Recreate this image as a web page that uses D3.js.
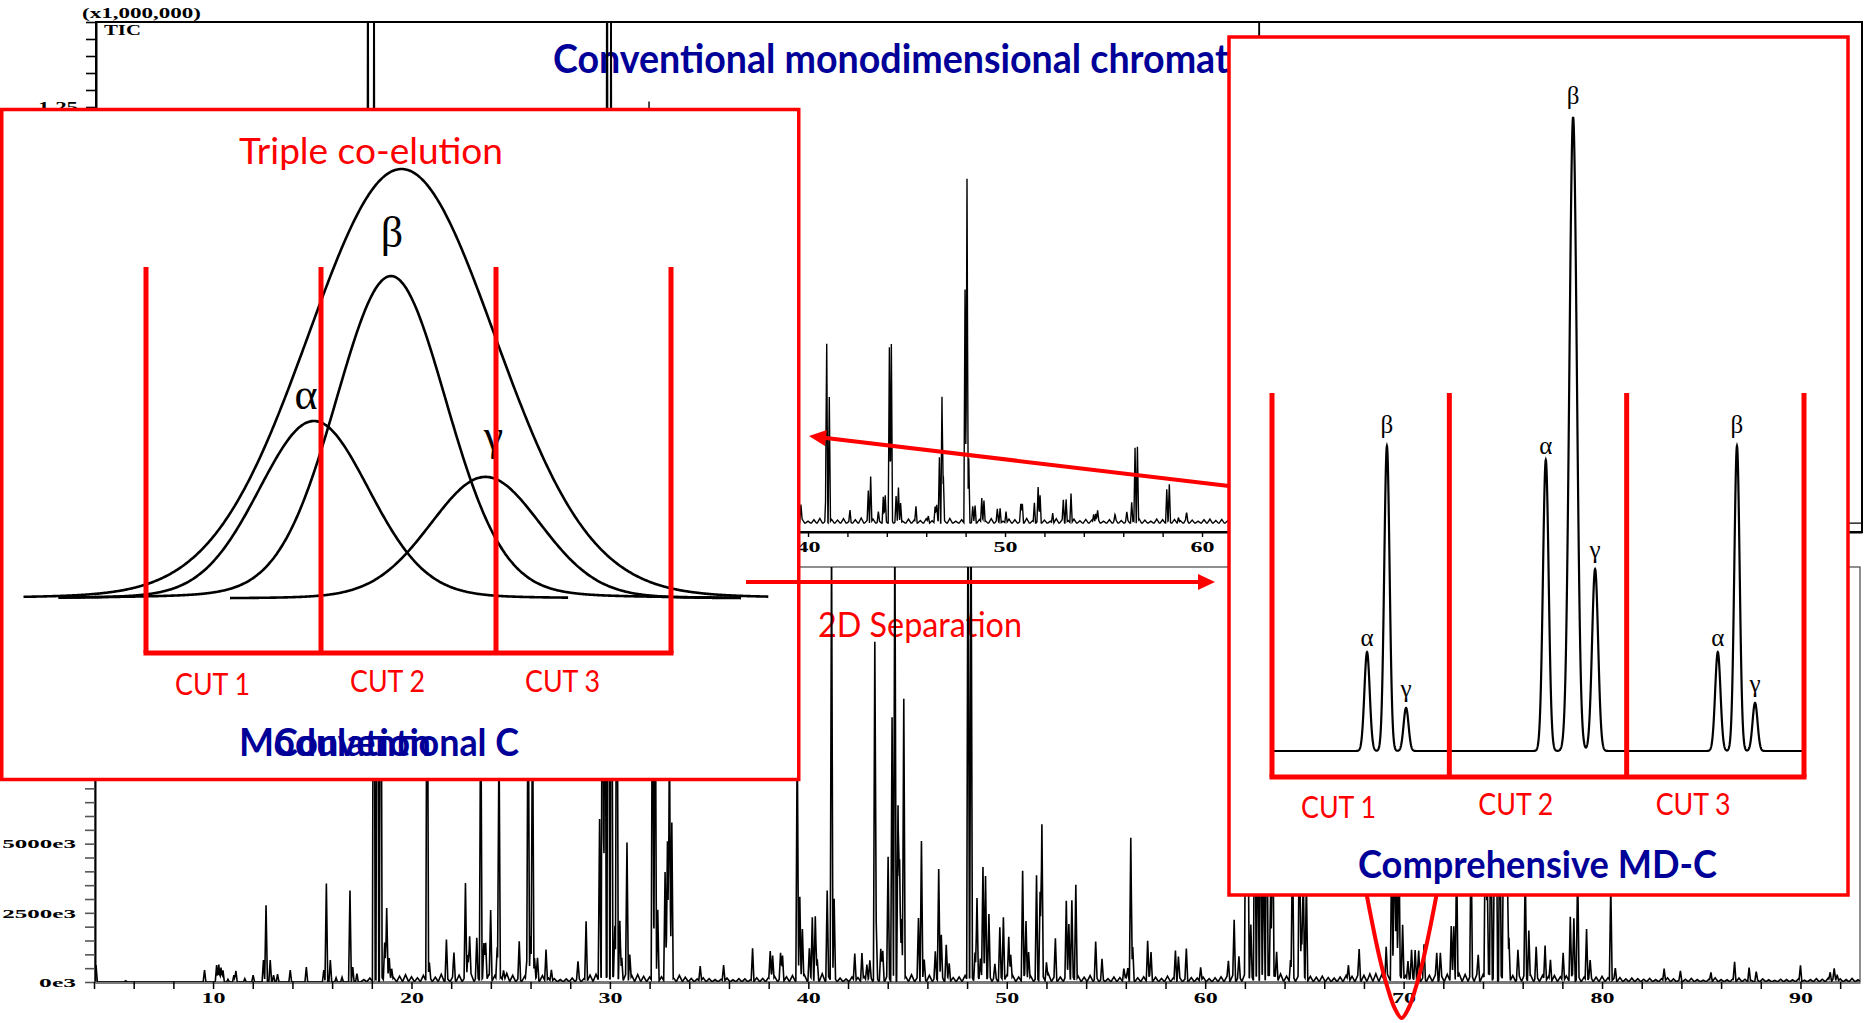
<!DOCTYPE html>
<html>
<head>
<meta charset="utf-8">
<script src="https://cdn.jsdelivr.net/npm/d3@7"></script>
<style>
  html, body { margin: 0; padding: 0; background: #fff; }
  svg { display: block; }
</style>
</head>
<body>
<svg id="fig" width="1866" height="1023"></svg>
<script>
// ================= DATA =================

// Upper trace: TIC, intensity in units of 1,000,000. [retention time (min), height above baseline]
const ticBaseline = 0.026;
const ticPeaks = [
  [12.6, 0.25], [15.7, 0.33], [16.9, 0.3], [17.66, 2.2], [17.97, 2.0], [20.8, 0.9], [22.7, 0.33],
  [23.5, 0.8], [24.4, 0.75], [25.9, 0.85], [26.1, 0.8], [28.8, 0.2], [29.5, 0.55], [29.8, 2.4],
  [30.0, 1.9], [31.93, 1.24], [32.2, 0.95], [32.9, 0.45], [33.1, 0.5], [37.2, 0.11],
  [39.64, 0.048], [40.91, 0.087], [40.95, 0.494], [41.08, 0.37], [42.13, 0.034], [43.06, 0.092],
  [43.18, 0.136], [43.57, 0.029], [43.82, 0.073], [43.92, 0.073], [44.13, 0.511], [44.23, 0.516],
  [44.47, 0.073], [44.59, 0.102], [44.7, 0.058], [45.48, 0.046], [46.11, 0.019], [46.45, 0.049],
  [46.53, 0.049], [46.67, 0.189], [46.8, 0.37], [46.87, 0.131], [47.97, 0.687], [48.07, 1.004],
  [48.16, 0.184], [48.36, 0.044], [48.48, 0.049], [48.82, 0.073], [48.93, 0.063], [49.61, 0.034],
  [49.75, 0.044], [50.05, 0.034], [50.8, 0.049], [50.88, 0.054], [51.49, 0.058], [51.68, 0.097],
  [51.78, 0.078], [52.42, 0.029], [52.96, 0.063], [53.1, 0.068], [53.35, 0.087], [54.5, 0.024],
  [54.6, 0.024], [54.7, 0.024], [55.58, 0.015], [56.18, 0.024], [56.43, 0.058], [56.6, 0.22],
  [56.72, 0.22], [58.21, 0.097], [58.34, 0.109], [58.8, 0.015], [59.22, 0.02],
  [62.5, 0.9], [62.9, 1.8], [63.1, 0.85], [63.4, 0.7], [64.4, 0.5], [64.75, 0.55], [69.5, 0.6],
  [69.7, 0.55], [72.7, 0.42], [73.4, 0.48], [74.4, 0.65], [74.85, 0.66], [75.0, 0.55], [76.1, 0.35],
  [78.8, 0.38], [80.4, 0.33], [86.7, 0.06], [90.0, 0.05]
];
// Baseline ripple of the TIC, sampled every 0.3 min from 39.4 min
const TIC_NOISE_START = 39.4, TIC_NOISE_STEP = 0.3;
const ticNoise = [
  0.008, 0.012, 0.006, 0.010, 0.014, 0.007, 0.011, 0.009, 0.013, 0.006,
  0.010, 0.015, 0.008, 0.012, 0.007, 0.011, 0.014, 0.009, 0.006, 0.012,
  0.010, 0.008, 0.013, 0.007, 0.011, 0.009, 0.014, 0.006, 0.010, 0.012,
  0.008, 0.011, 0.007, 0.013, 0.009, 0.006, 0.012, 0.010, 0.008, 0.014,
  0.007, 0.011, 0.009, 0.006, 0.013, 0.010, 0.008, 0.012, 0.007, 0.011,
  0.009, 0.014, 0.006, 0.010, 0.012, 0.008, 0.011, 0.007, 0.013, 0.009,
  0.006, 0.012, 0.010, 0.008, 0.011, 0.007, 0.013, 0.009, 0.006, 0.010,
  0.012, 0.008, 0.011, 0.007
];

// Lower trace, intensity in e3 counts. [retention time (min), height]
const lowPeaks = [
  [4.1, 610], [5.6, 40], [9.57, 430], [10.18, 610], [10.29, 630], [10.4, 520], [10.5, 420],
  [10.75, 100], [11.05, 250], [11.15, 400], [11.6, 120], [12.02, 250], [12.54, 790], [12.67, 2770],
  [12.88, 790], [13.05, 250], [13.25, 280], [13.89, 430], [14.7, 540], [15.58, 430], [15.71, 3560],
  [15.91, 790], [16.2, 150], [16.5, 170], [16.9, 3310], [17.04, 540], [17.25, 300],
  [18.1, 22000], [18.28, 24000], [18.45, 20000], [18.65, 1400], [18.75, 2520], [18.88, 750], [19.0, 420],
  [20.79, 16000], [20.9, 500], [21.76, 1440], [22.14, 900], [22.72, 3420], [22.84, 950], [22.93, 1480],
  [23.29, 1400], [23.49, 11000], [23.65, 1300], [23.74, 1400], [23.99, 2480], [24.32, 1200],
  [24.41, 9000], [24.64, 400], [25.43, 1350], [25.81, 700], [25.88, 12000], [26.0, 1400],
  [26.1, 10500], [26.2, 800], [26.35, 750], [26.78, 1140], [27.05, 420], [28.39, 590], [28.8, 2150],
  [29.48, 5830], [29.63, 18000], [29.75, 16000], [29.92, 25000], [30.08, 20000], [30.25, 1850],
  [30.35, 17000], [30.5, 2000], [30.6, 800], [30.86, 4860], [31.0, 900], [32.15, 14000],
  [32.28, 13000], [32.41, 2560], [32.78, 3920], [32.9, 4870], [33.0, 9000], [33.12, 5690],
  [34.55, 560], [35.73, 590], [37.19, 1180], [38.08, 1030], [38.2, 880], [38.6, 900], [38.7, 900],
  [39.44, 9000], [39.57, 2980], [39.7, 1820], [40.05, 1070], [40.2, 2260], [40.35, 2200], [40.45, 650],
  [40.95, 3160], [41.17, 16000], [41.3, 2840], [42.34, 1010], [42.7, 970], [42.95, 600], [43.1, 550],
  [43.35, 12130], [43.42, 1980], [43.65, 1070], [43.75, 1000], [44.02, 4280], [44.22, 9450],
  [44.36, 16500], [44.52, 6230], [44.6, 4130], [44.7, 2160], [44.81, 10150], [45.55, 2200],
  [45.7, 5010], [45.84, 650], [46.4, 920], [46.57, 4030], [46.7, 1440], [46.95, 1200], [47.1, 600],
  [48.05, 19000], [48.2, 17000], [48.4, 950], [48.5, 2740], [48.67, 800], [48.8, 3920], [48.93, 3790],
  [49.1, 2180], [49.4, 450], [49.65, 1850], [49.83, 2300], [50.1, 1540], [50.2, 900], [50.8, 3920],
  [50.97, 2050], [51.1, 1000], [51.5, 3700], [51.68, 3200], [51.77, 5510], [52.0, 600], [52.45, 1440],
  [53.0, 2680], [53.13, 2050], [53.28, 2740], [53.48, 3460], [54.48, 1300], [54.8, 700], [55.9, 400],
  [56.1, 420], [56.25, 5080], [56.35, 1130], [57.1, 1400], [57.27, 950], [58.5, 1080], [58.65, 800],
  [59.05, 1130], [59.77, 500], [61.17, 650], [61.46, 2090], [61.7, 700],
  [62.05, 8000], [62.15, 7000], [62.3, 1800], [62.5, 9000], [62.65, 6000], [62.8, 7500], [62.95, 5000],
  [63.1, 8500], [63.3, 3300], [63.4, 7000], [63.6, 1000], [64.3, 700], [64.4, 5000], [64.75, 6000],
  [64.85, 1850], [64.94, 4000], [65.1, 3600],
  [67.22, 550], [67.76, 1030], [69.12, 1150], [69.4, 5000], [69.53, 6500], [69.64, 4000], [69.76, 5500],
  [69.95, 2040], [70.22, 700], [70.4, 900], [70.58, 1100], [70.76, 1000], [71.03, 1210], [71.67, 910],
  [71.85, 900], [72.4, 1930], [72.53, 1810], [72.67, 4500], [73.4, 5000], [73.76, 800], [74.12, 6000],
  [74.21, 4000], [74.4, 7000], [74.58, 5000], [74.67, 6500], [74.85, 7000], [75.04, 6000],
  [75.13, 5500], [75.22, 4500], [75.31, 1510], [75.76, 970], [76.13, 3800], [76.31, 1750],
  [76.68, 1090], [77.13, 1270], [77.4, 730], [78.04, 1030], [78.4, 2260], [78.58, 2170], [78.77, 4000],
  [79.22, 1870], [79.4, 550], [80.44, 3500], [80.67, 430], [83.13, 460], [83.95, 350], [85.49, 300],
  [86.68, 670], [87.41, 490], [87.77, 300], [90.0, 560], [91.5, 300], [91.7, 330], [91.85, 250]
];
// Baseline noise of the lower trace (e3 counts), sampled every 0.3 min from 17.6 min
const LOW_NOISE_START = 17.6, LOW_NOISE_STEP = 0.3;
const lowNoise = [
  90, 140, 110, 180, 230, 160, 210, 260, 190, 150, 240, 200, 170, 280, 130, 220, 250, 180, 300, 210,
  160, 270, 230, 190, 310, 240, 150, 200, 260, 180, 230, 140, 120, 90, 110, 140, 170, 130, 250, 280,
  230, 300, 260, 210, 290, 240, 270, 200, 180, 160, 190, 220, 150, 240, 170, 130, 110, 150, 120, 90,
  100, 140, 80, 120, 110, 90, 150, 130, 170, 200, 160, 190, 230, 180, 260, 210, 250, 300, 220, 170,
  140, 110, 180, 160, 210, 230, 250, 190, 280, 240, 310, 200, 260, 170, 220, 240, 190, 270, 210, 160,
  180, 230, 260, 300, 240, 280, 210, 190, 250, 230, 180, 270, 220, 160, 240, 290, 200, 180, 260, 240,
  210, 170, 230, 190, 140, 120, 180, 160, 220, 200, 150, 190, 240, 170, 130, 210, 150, 180, 120, 160,
  140, 170, 120, 150, 190, 210, 260, 230, 300, 280, 250, 320, 270, 240, 290, 210, 260, 230, 180, 200,
  170, 210, 160, 140, 180, 230, 200, 260, 240, 290, 300, 270, 250, 310, 280, 230, 260, 220, 190, 240,
  260, 230, 280, 250, 300, 270, 320, 290, 260, 310, 280, 240, 270, 230, 260, 300, 250, 210, 240, 200,
  230, 190, 220, 260, 210, 180, 240, 170, 200, 150, 130, 160, 110, 140, 120, 100, 130, 90, 120, 150,
  110, 80, 100, 130, 90, 70, 110, 150, 90, 80, 120, 140, 100, 70, 90, 110, 80, 60, 100, 90,
  80, 110, 70, 90, 120, 100, 140, 160, 110, 90, 130, 80
];

// Time window of the co-eluting cluster that is highlighted on the lower trace
const highlightRT = 69.9;

// Triple co-elution (first dimension): components alpha, beta, gamma
const coNames = ['α', 'β', 'γ'];
const coRT = [69.48, 69.70, 69.97];          // min
const coHeight = [41.4, 75.1, 28.4];         // relative response
const coSigma = [0.16, 0.16, 0.16];          // min
const coSpanStart = [68.75, 68.75, 69.24];
const coSpanEnd = [70.21, 70.70, 70.70];
// Unresolved detector signal of the three components
const envelopeRT = 69.73, envelopeHeight = 100, envelopeSigma = 0.27;
const envelopeSpan = [68.65, 70.78];
const modCutEdges = [69.0, 69.5, 70.0, 70.5];
const cutNames = ['CUT 1', 'CUT 2', 'CUT 3'];

// Second-dimension separation of each cut (time in s, relative response)
const twoDNames = ['α', 'β', 'γ', 'α', 'β', 'γ', 'α', 'β', 'γ'];
const twoDTime = [2.68, 3.24, 3.78, 7.72, 8.49, 9.11, 12.57, 13.11, 13.62];
const twoDHeight = [15.6, 48.1, 6.8, 45.9, 100, 28.7, 15.6, 48.1, 7.6];
const twoDSigma = [0.075, 0.075, 0.07, 0.08, 0.105, 0.085, 0.075, 0.075, 0.07];
const twoDCutEdges = [0, 5, 10, 15];

// ================= DRAWING =================
const svg = d3.select('#fig');
const RED = '#ff0000', NAVY = '#000099';
const SANS = 'Lato, "Open Sans", "DejaVu Sans", sans-serif';
const SERIF = '"Liberation Serif", "DejaVu Serif", serif';

function fit(sel, width) {
  return sel.attr('textLength', width).attr('lengthAdjust', 'spacingAndGlyphs');
}

// Sum of triangular peaks, evaluated exactly at every breakpoint
function stickTrace(peaks, t0, t1, base) {
  const bp = new Set([t0, t1]);
  for (const [t, , w] of peaks) { bp.add(t - w); bp.add(t); bp.add(t + w); }
  const ts = [...bp].filter(t => t >= t0 && t <= t1).sort((a, b) => a - b);
  return ts.map(t => {
    let s = base;
    for (const [p, h, w] of peaks) {
      const d = Math.abs(t - p);
      if (d < w) s += h * (1 - d / w);
    }
    return [t, s];
  });
}

function styleAxisText(g, charWidth, size, maxWidth) {
  g.attr('font-family', SERIF).attr('font-size', size).attr('font-weight', 'bold');
  g.selectAll('text').each(function () {
    const s = this.textContent;
    if (s) fit(d3.select(this), Math.min(s.length * charWidth, maxWidth || Infinity));
  }).attr('fill', '#000');
}

const defs = svg.append('defs');

// ---------- upper TIC chromatogram ----------
const xTop = d3.scaleLinear().domain([3.858, 93.5]).range([96, 1862]);
const yTop = d3.scaleLinear().domain([0, 1.5]).range([532, 22]);
const [tx0, tx1] = xTop.range(), [ty0, ty1] = yTop.range();

defs.append('clipPath').attr('id', 'clipTop').append('rect')
  .attr('x', tx0).attr('y', ty1).attr('width', tx1 - tx0).attr('height', ty0 - ty1);

const gTop = svg.append('g');
gTop.append('rect').attr('x', tx0).attr('y', ty1).attr('width', tx1 - tx0).attr('height', ty0 - ty1)
  .attr('fill', 'none').attr('stroke', '#000').attr('stroke-width', 2);

const topY = gTop.append('g').attr('transform', `translate(${tx0},0)`)
  .call(d3.axisLeft(yTop).tickValues(d3.range(0, 31).map(i => i * 0.05)).tickSize(10).tickSizeOuter(0)
    .tickPadding(8).tickFormat(d => { const k = Math.round(d * 100); return (k % 25 === 0 && k <= 125) ? d.toFixed(2) : ''; }));
topY.select('.domain').attr('stroke', '#000').attr('stroke-width', 2);
topY.selectAll('.tick line').attr('stroke', '#000').attr('stroke-width', 1.6);
styleAxisText(topY, 10, 14);

const topX = gTop.append('g').attr('transform', `translate(0,${ty0})`)
  .call(d3.axisBottom(xTop).tickValues(d3.range(4, 93, 2)).tickSize(5).tickSizeOuter(0)
    .tickPadding(5).tickFormat(d => d % 10 === 0 ? d : ''));
topX.select('.domain').attr('stroke', '#000').attr('stroke-width', 2);
topX.selectAll('.tick line').attr('stroke', '#000').attr('stroke-width', 1.4);
styleAxisText(topX, 12, 14);

fit(gTop.append('text').attr('x', 82).attr('y', 18).attr('font-family', SERIF).attr('font-weight', 'bold')
  .attr('font-size', 14).text('(x1,000,000)'), 119);
fit(gTop.append('text').attr('x', 104).attr('y', 35).attr('font-family', SERIF).attr('font-weight', 'bold')
  .attr('font-size', 14).text('TIC'), 37);

// ---------- lower chromatogram ----------
const xLow = d3.scaleLinear().domain([4.05, 93]).range([95, 1860]);
const yLow = d3.scaleLinear().domain([0, 15000]).range([982, 567]);
const [lx0, lx1] = xLow.range(), [ly0, ly1] = yLow.range();

defs.append('clipPath').attr('id', 'clipLow').append('rect')
  .attr('x', lx0).attr('y', ly1).attr('width', lx1 - lx0).attr('height', ly0 - ly1);

const gLow = svg.append('g');
gLow.append('rect').attr('x', lx0).attr('y', ly1).attr('width', lx1 - lx0).attr('height', ly0 - ly1)
  .attr('fill', 'none').attr('stroke', '#444').attr('stroke-width', 1.2);

const lowY = gLow.append('g').attr('transform', `translate(${lx0},0)`)
  .call(d3.axisLeft(yLow).tickValues(d3.range(0, 15001, 500)).tickSize(10).tickSizeOuter(0)
    .tickPadding(9).tickFormat(d => (d % 2500 === 0 && d < 15000) ? `${d}e3` : ''));
lowY.select('.domain').attr('stroke', '#000').attr('stroke-width', 2);
lowY.selectAll('.tick line').attr('stroke', '#555').attr('stroke-width', 1.6);
styleAxisText(lowY, 12.3, 13, 74);

const lowX = gLow.append('g').attr('transform', `translate(0,${ly0})`)
  .call(d3.axisBottom(xLow).tickValues(d3.range(4, 93, 2)).tickSize(7).tickSizeOuter(0)
    .tickPadding(4).tickFormat(d => d % 10 === 0 ? d : ''));
lowX.select('.domain').attr('stroke', '#7a7a7a').attr('stroke-width', 3.2);
lowX.selectAll('.tick line').attr('stroke', '#000').attr('stroke-width', 1.5);
styleAxisText(lowX, 12, 14);

// ---------- captions lying beneath the traces ----------
const title = svg.append('text').attr('font-family', SANS).attr('font-weight', 700).attr('font-size', 40)
  .attr('fill', NAVY).text('Conventional monodimensional chromatography');
const visibleLen = title.node().getSubStringLength(0, 'Conventional monodimensional chromat'.length);
title.attr('transform', `translate(553,73) scale(${676 / visibleLen},1)`);

fit(svg.append('text').attr('x', 818).attr('y', 637).attr('font-family', SANS).attr('font-size', 34)
  .attr('fill', RED).text('2D Separation'), 204);

// ---------- traces ----------
const ticAll = ticPeaks.map(([t, h]) => [t, h, 0.06])
  .concat(ticNoise.map((h, i) => [TIC_NOISE_START + i * TIC_NOISE_STEP, h, 0.13]));
svg.append('path')
  .datum(stickTrace(ticAll, xTop.domain()[0], xTop.domain()[1], ticBaseline))
  .attr('clip-path', 'url(#clipTop)')
  .attr('fill', 'none').attr('stroke', '#000').attr('stroke-width', 1.4)
  .attr('d', d3.line().x(d => xTop(d[0])).y(d => yTop(d[1])));

const lowAll = lowPeaks.map(([t, h]) => [t, h, 0.07])
  .concat(lowNoise.map((h, i) => [LOW_NOISE_START + i * LOW_NOISE_STEP, h, 0.16]));
svg.append('path')
  .datum(stickTrace(lowAll, xLow.domain()[0], xLow.domain()[1], 0))
  .attr('clip-path', 'url(#clipLow)')
  .attr('fill', 'none').attr('stroke', '#000').attr('stroke-width', 1.6)
  .attr('d', d3.line().x(d => xLow(d[0])).y(d => yLow(d[1])));

// ---------- highlight around the co-eluting cluster ----------
const hx = xLow(highlightRT), hy = 1018;
const loop = [[-41, -158], [-34.5, -121], [-21.5, -58], [-14, -30], [-7, -10], [0, 0],
              [7, -10], [14, -30], [21.5, -58], [34.5, -121], [41, -158]];
svg.append('path').datum(loop)
  .attr('fill', 'none').attr('stroke', RED).attr('stroke-width', 4)
  .attr('d', d3.line().x(d => hx + d[0]).y(d => hy + d[1]).curve(d3.curveCatmullRom));

// ---------- modulation inset (left) ----------
const gL = svg.append('g');
gL.append('rect').attr('x', 1.75).attr('y', 109.5).attr('width', 797).attr('height', 670)
  .attr('fill', '#fff').attr('stroke', RED).attr('stroke-width', 3.5);

const xCo = d3.scaleLinear().domain([modCutEdges[0], modCutEdges[3]]).range([146, 671]);
const yCo = d3.scaleLinear().domain([0, 100]).range([599, 169]);

function voigt(t, c, h, s, eta) {
  const d = (t - c) / s;
  return h * ((1 - eta) * Math.exp(-0.5 * d * d) + eta / (1 + (d / 1.1774) ** 2));
}
const coLine = d3.line().x(d => xCo(d[0])).y(d => yCo(d[1])).curve(d3.curveBasis);

const envT = d3.range(envelopeSpan[0], envelopeSpan[1], 0.004);
gL.append('path').datum(envT.map(t => [t, voigt(t, envelopeRT, envelopeHeight, envelopeSigma, 0.06)]))
  .attr('fill', 'none').attr('stroke', '#000').attr('stroke-width', 2.6).attr('d', coLine);

coRT.forEach((c, i) => {
  const ts = d3.range(coSpanStart[i], coSpanEnd[i], 0.004);
  gL.append('path').datum(ts.map(t => [t, voigt(t, c, coHeight[i], coSigma[i], 0.12)]))
    .attr('fill', 'none').attr('stroke', '#000').attr('stroke-width', 2.6).attr('d', coLine);
});

const coLabelOffset = { 'α': [-8, -12], 'β': [1, -29], 'γ': [8, -27] };
coNames.forEach((n, i) => {
  const [dx, dy] = coLabelOffset[n];
  gL.append('text').attr('x', xCo(coRT[i]) + dx).attr('y', yCo(coHeight[i]) + dy)
    .attr('text-anchor', 'middle').attr('font-family', SERIF).attr('font-size', 44)
    .attr('fill', '#000').text(n);
});

// cut bracket
const cutTopL = 267, cutBotL = 653;
modCutEdges.forEach(e => {
  gL.append('line').attr('x1', xCo(e)).attr('x2', xCo(e)).attr('y1', cutTopL).attr('y2', cutBotL)
    .attr('stroke', RED).attr('stroke-width', 5);
});
gL.append('line').attr('x1', xCo(modCutEdges[0]) - 2.5).attr('x2', xCo(modCutEdges[3]) + 2.5)
  .attr('y1', cutBotL).attr('y2', cutBotL).attr('stroke', RED).attr('stroke-width', 5);
cutNames.forEach((n, i) => {
  fit(gL.append('text').attr('x', xCo(modCutEdges[i]) + 29).attr('y', i === 0 ? 695 : 692)
    .attr('font-family', SANS).attr('font-size', 31).attr('fill', RED).text(n), 75);
});

fit(gL.append('text').attr('x', 239).attr('y', 164).attr('font-family', SANS).attr('font-size', 36)
  .attr('fill', RED).text('Triple co-elution'), 264);
fit(gL.append('text').attr('x', 239).attr('y', 756).attr('font-family', SANS).attr('font-weight', 700)
  .attr('font-size', 38).attr('fill', NAVY).text('Modulation'), 192);
fit(gL.append('text').attr('x', 274).attr('y', 756).attr('font-family', SANS).attr('font-weight', 700)
  .attr('font-size', 38).attr('fill', NAVY).text('Conventional C'), 245);

// ---------- comprehensive MD-C inset (right) ----------
const gR = svg.append('g');
gR.append('rect').attr('x', 1229).attr('y', 37).attr('width', 619).attr('height', 858)
  .attr('fill', '#fff').attr('stroke', RED).attr('stroke-width', 3.5);

const x2 = d3.scaleLinear().domain([twoDCutEdges[0], twoDCutEdges[3]]).range([1272, 1804]);
const y2 = d3.scaleLinear().domain([0, 100]).range([751, 117]);

const t2 = d3.range(twoDCutEdges[0], twoDCutEdges[3] + 0.0001, 0.005);
const trace2 = t2.map(t => [t, d3.sum(twoDTime, (c, i) => {
  const d = (t - c) / twoDSigma[i];
  return twoDHeight[i] * Math.exp(-0.5 * d * d);
})]);
gR.append('path').datum(trace2).attr('fill', 'none').attr('stroke', '#000').attr('stroke-width', 2.2)
  .attr('d', d3.line().x(d => x2(d[0])).y(d => y2(d[1])));

const twoDLabelDy = { 'α': -6, 'β': -13, 'γ': -11 };
twoDNames.forEach((n, i) => {
  gR.append('text').attr('x', x2(twoDTime[i])).attr('y', y2(twoDHeight[i]) + twoDLabelDy[n])
    .attr('text-anchor', 'middle').attr('font-family', SERIF).attr('font-size', 25)
    .attr('fill', '#000').text(n);
});

const cutTopR = 393, cutBotR = 777;
twoDCutEdges.forEach(e => {
  gR.append('line').attr('x1', x2(e)).attr('x2', x2(e)).attr('y1', cutTopR).attr('y2', cutBotR)
    .attr('stroke', RED).attr('stroke-width', 5);
});
gR.append('line').attr('x1', x2(twoDCutEdges[0]) - 2.5).attr('x2', x2(twoDCutEdges[3]) + 2.5)
  .attr('y1', cutBotR).attr('y2', cutBotR).attr('stroke', RED).attr('stroke-width', 5);
cutNames.forEach((n, i) => {
  fit(gR.append('text').attr('x', x2(twoDCutEdges[i]) + 29).attr('y', i === 0 ? 818 : 815)
    .attr('font-family', SANS).attr('font-size', 31).attr('fill', RED).text(n), 75);
});
fit(gR.append('text').attr('x', 1358).attr('y', 878).attr('font-family', SANS).attr('font-weight', 700)
  .attr('font-size', 38).attr('fill', NAVY).text('Comprehensive MD-C'), 359);

// ---------- arrows ----------
function arrow(x1, y1, x2e, y2e, headLen, headHalf, width) {
  const dx = x2e - x1, dy = y2e - y1, L = Math.hypot(dx, dy), ux = dx / L, uy = dy / L;
  const bx = x2e - ux * headLen, by = y2e - uy * headLen;
  svg.append('line').attr('x1', x1).attr('y1', y1).attr('x2', bx + ux * 2).attr('y2', by + uy * 2)
    .attr('stroke', RED).attr('stroke-width', width);
  svg.append('path')
    .attr('d', `M${x2e},${y2e}L${bx - uy * headHalf},${by + ux * headHalf}L${bx + uy * headHalf},${by - ux * headHalf}Z`)
    .attr('fill', RED);
}
arrow(1229, 486, 809, 436, 17, 8, 4);
arrow(746, 582, 1215, 582, 17, 8, 4);
</script>
</body>
</html>
